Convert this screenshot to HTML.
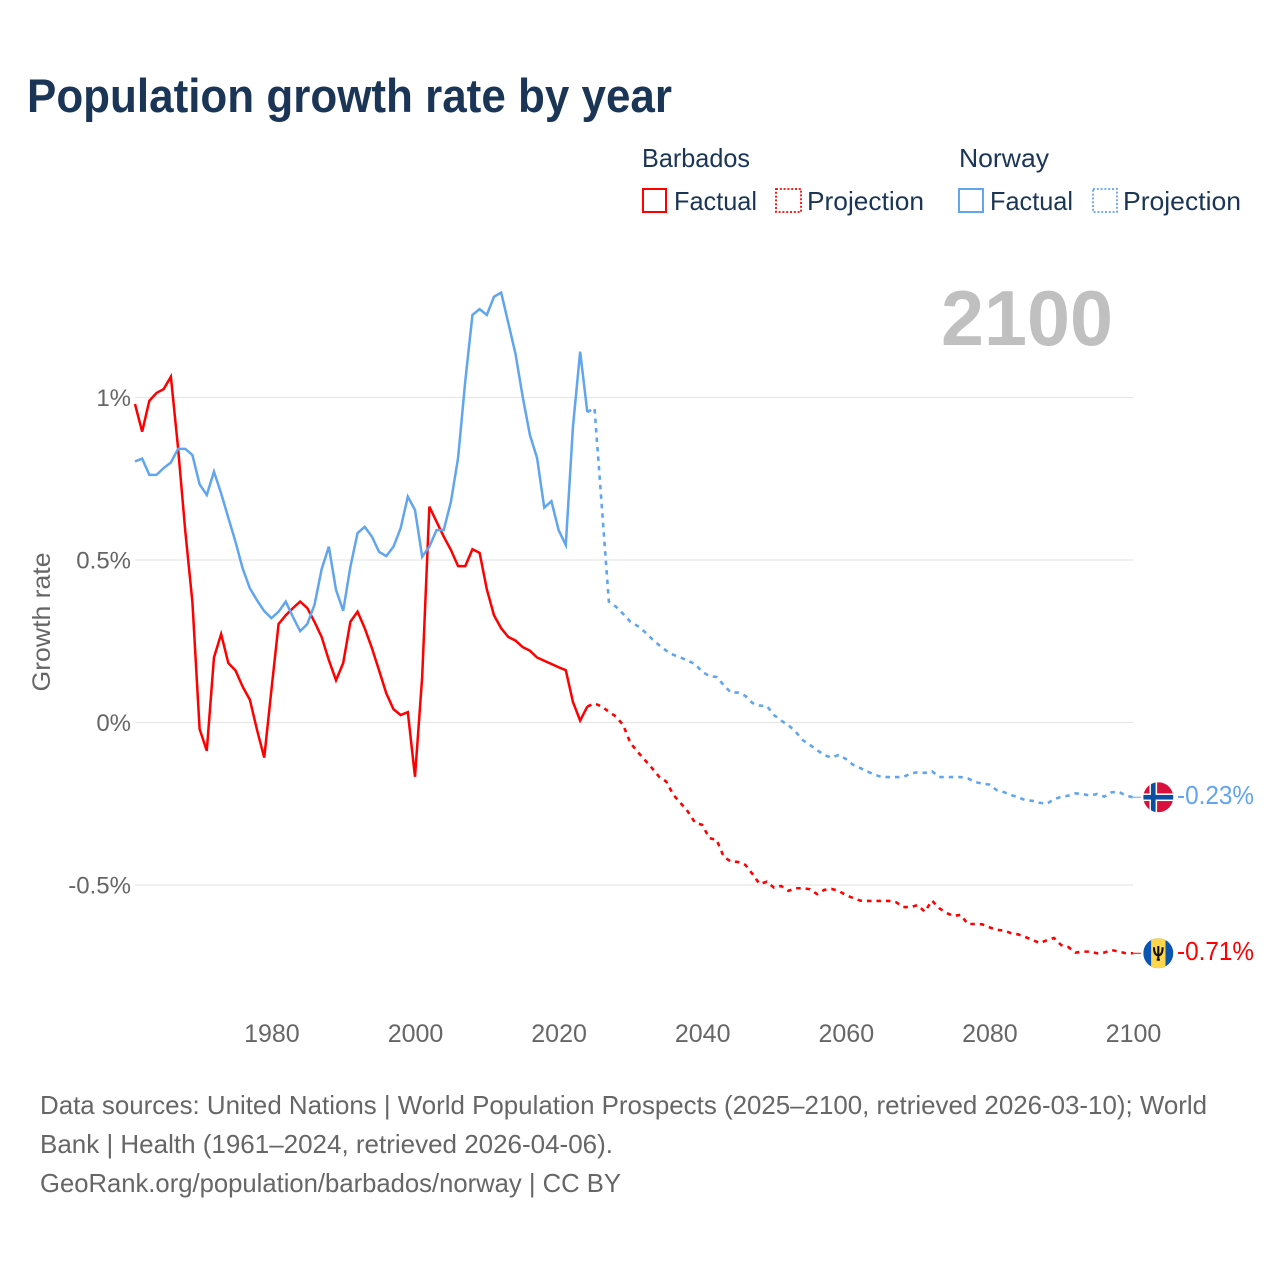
<!DOCTYPE html>
<html lang="en">
<head>
<meta charset="utf-8">
<title>Population growth rate by year</title>
<style>
html,body{margin:0;padding:0;background:#fff;}
svg{display:block;font-family:"Liberation Sans",sans-serif;}
</style>
</head>
<body>
<svg id="chart" xmlns="http://www.w3.org/2000/svg" width="1280" height="1280" viewBox="0 0 1280 1280">
  <rect x="0" y="0" width="1280" height="1280" fill="#fff"/>
  <text x="27" y="112" font-size="47" font-weight="700" fill="#1a3556" textLength="645" lengthAdjust="spacingAndGlyphs">Population growth rate by year</text>

  <g font-size="26" fill="#1a3556">
    <text x="642" y="167" textLength="108" lengthAdjust="spacingAndGlyphs">Barbados</text>
    <text x="959" y="167" textLength="90" lengthAdjust="spacingAndGlyphs">Norway</text>
    <g>
      <rect x="643" y="189" width="23" height="23" fill="none" stroke="#ff0000" stroke-width="2"/>
      <text x="674" y="210" textLength="83" lengthAdjust="spacingAndGlyphs">Factual</text>
    </g>
    <g>
      <rect x="776" y="189" width="25" height="23" fill="none" stroke="#ff0000" stroke-width="1.8" stroke-dasharray="2 1.8"/>
      <text x="807" y="210" textLength="117" lengthAdjust="spacingAndGlyphs">Projection</text>
    </g>
    <g>
      <rect x="959" y="189" width="24" height="23" fill="none" stroke="#60a5ee" stroke-width="2"/>
      <text x="990" y="210" textLength="83" lengthAdjust="spacingAndGlyphs">Factual</text>
    </g>
    <g>
      <rect x="1093" y="189" width="24" height="23" fill="none" stroke="#60a5ee" stroke-width="1.8" stroke-dasharray="2 1.8"/>
      <text x="1123" y="210" textLength="118" lengthAdjust="spacingAndGlyphs">Projection</text>
    </g>
  </g>

  <text x="941" y="345" font-size="78" font-weight="700" fill="#c0c0c0" textLength="172" lengthAdjust="spacingAndGlyphs">2100</text>

  <g id="grid"></g>
  <g id="yticks" font-size="24" fill="#666" text-anchor="end"></g>
  <g id="xticks" font-size="25" fill="#666" text-anchor="middle"></g>
  <text transform="translate(50,622) rotate(-90)" font-size="25" fill="#666" text-anchor="middle" textLength="139" lengthAdjust="spacingAndGlyphs">Growth rate</text>

  <g id="series"></g>

  <defs>
    <clipPath id="flag-clip"><circle cx="0" cy="0" r="15"/></clipPath>
  </defs>
  <g id="flag-norway">
    <g clip-path="url(#flag-clip)">
      <rect x="-15" y="-15" width="30" height="30" fill="#d8103c"/>
      <rect x="-8.8" y="-15" width="7.6" height="30" fill="#fff"/>
      <rect x="-15" y="-3.8" width="30" height="7.6" fill="#fff"/>
      <rect x="-7.3" y="-15" width="4.6" height="30" fill="#0b4ea2"/>
      <rect x="-15" y="-2.3" width="30" height="4.6" fill="#0b4ea2"/>
    </g>
  </g>
  <g id="flag-barbados">
    <g clip-path="url(#flag-clip)">
      <rect x="-15" y="-15" width="30" height="30" fill="#0a55b0"/>
      <rect x="-7.2" y="-15" width="14.4" height="30" fill="#fdd64b"/>
      <path d="M0 -7.3V7.3M-4.3 -6C-4.3 -1 -3 2 0 2C3 2 4.3 -1 4.3 -6M-1.6 6.5H1.6" fill="none" stroke="#111" stroke-width="2.1"/>
    </g>
  </g>
  <text id="label-norway" x="1177" y="803" font-size="26" fill="#60a5ee" textLength="77" lengthAdjust="spacingAndGlyphs">-0.23%</text>
  <text id="label-barbados" x="1177" y="959" font-size="26" fill="#ff0000" textLength="77" lengthAdjust="spacingAndGlyphs">-0.71%</text>

  <g font-size="26" fill="#666">
    <text x="40" y="1114" textLength="1167" lengthAdjust="spacingAndGlyphs">Data sources: United Nations | World Population Prospects (2025–2100, retrieved 2026-03-10); World</text>
    <text x="40" y="1153" textLength="573" lengthAdjust="spacingAndGlyphs">Bank | Health (1961–2024, retrieved 2026-04-06).</text>
    <text x="40" y="1192" textLength="581" lengthAdjust="spacingAndGlyphs">GeoRank.org/population/barbados/norway | CC BY</text>
  </g>
</svg>

<script>
var factualYears = [1961,1962,1963,1964,1965,1966,1967,1968,1969,1970,1971,1972,1973,1974,1975,1976,1977,1978,1979,1980,1981,1982,1983,1984,1985,1986,1987,1988,1989,1990,1991,1992,1993,1994,1995,1996,1997,1998,1999,2000,2001,2002,2003,2004,2005,2006,2007,2008,2009,2010,2011,2012,2013,2014,2015,2016,2017,2018,2019,2020,2021,2022,2023,2024];
var projectionYears = [2024,2025,2026,2027,2028,2029,2030,2031,2032,2033,2034,2035,2036,2037,2038,2039,2040,2041,2042,2043,2044,2045,2046,2047,2048,2049,2050,2051,2052,2053,2054,2055,2056,2057,2058,2059,2060,2061,2062,2063,2064,2065,2066,2067,2068,2069,2070,2071,2072,2073,2074,2075,2076,2077,2078,2079,2080,2081,2082,2083,2084,2085,2086,2087,2088,2089,2090,2091,2092,2093,2094,2095,2096,2097,2098,2099,2100];
var barbadosFactual = [0.98,0.895,0.99,1.014,1.026,1.064,0.845,0.59,0.37,-0.02,-0.087,0.2,0.272,0.183,0.16,0.11,0.07,-0.023,-0.108,0.1,0.303,0.33,0.352,0.372,0.352,0.31,0.263,0.192,0.13,0.183,0.31,0.341,0.29,0.229,0.16,0.09,0.041,0.023,0.032,-0.167,0.141,0.664,0.618,0.572,0.531,0.481,0.481,0.533,0.522,0.41,0.33,0.29,0.263,0.252,0.232,0.221,0.2,0.19,0.18,0.17,0.161,0.063,0.006,0.049];
var norwayFactual = [0.803,0.812,0.762,0.762,0.783,0.8,0.842,0.842,0.823,0.733,0.7,0.772,0.705,0.63,0.556,0.474,0.413,0.376,0.343,0.321,0.341,0.372,0.325,0.281,0.303,0.362,0.472,0.541,0.408,0.344,0.479,0.583,0.602,0.572,0.525,0.512,0.541,0.598,0.695,0.654,0.51,0.541,0.592,0.592,0.679,0.814,1.05,1.254,1.272,1.254,1.31,1.323,1.229,1.134,1.002,0.885,0.814,0.661,0.681,0.592,0.546,0.91,1.141,0.955];
var barbadosProjection = [0.049,0.059,0.049,0.033,0.018,-0.008,-0.063,-0.09,-0.115,-0.14,-0.167,-0.182,-0.223,-0.248,-0.274,-0.308,-0.315,-0.356,-0.361,-0.413,-0.428,-0.429,-0.438,-0.466,-0.497,-0.49,-0.508,-0.503,-0.518,-0.51,-0.51,-0.513,-0.528,-0.515,-0.512,-0.518,-0.531,-0.54,-0.548,-0.549,-0.549,-0.549,-0.549,-0.553,-0.568,-0.568,-0.562,-0.582,-0.548,-0.571,-0.586,-0.595,-0.592,-0.62,-0.62,-0.621,-0.63,-0.638,-0.64,-0.648,-0.652,-0.66,-0.669,-0.679,-0.67,-0.663,-0.685,-0.691,-0.708,-0.705,-0.705,-0.71,-0.708,-0.7,-0.705,-0.71,-0.71];
var norwayProjection = [0.955,0.968,0.67,0.372,0.356,0.334,0.31,0.297,0.279,0.257,0.238,0.221,0.208,0.2,0.19,0.18,0.156,0.143,0.14,0.115,0.092,0.092,0.082,0.06,0.052,0.051,0.023,0.006,-0.008,-0.028,-0.054,-0.069,-0.085,-0.1,-0.108,-0.1,-0.112,-0.13,-0.14,-0.151,-0.16,-0.168,-0.168,-0.168,-0.168,-0.157,-0.153,-0.155,-0.15,-0.168,-0.168,-0.168,-0.168,-0.172,-0.183,-0.188,-0.191,-0.208,-0.214,-0.223,-0.23,-0.239,-0.241,-0.247,-0.25,-0.236,-0.229,-0.225,-0.218,-0.22,-0.225,-0.22,-0.228,-0.215,-0.213,-0.225,-0.23];
var yTickValues = [1,0.5,0,-0.5];
var yTickLabels = ["1%","0.5%","0%","-0.5%"];
var xTickValues = [1980,2000,2020,2040,2060,2080,2100];
var xTickLabels = ["1980","2000","2020","2040","2060","2080","2100"];

var SVG_NS = "http://www.w3.org/2000/svg";
function xScale(year) { return 271.4 + (year - 1980) * 7.18; }
function yScale(value) { return 722.5 - value * 325; }

var gridGroup = document.getElementById("grid");
var yTickGroup = document.getElementById("yticks");
var xTickGroup = document.getElementById("xticks");
var seriesGroup = document.getElementById("series");

yTickValues.forEach(function (value, i) {
  var line = document.createElementNS(SVG_NS, "line");
  
  
  line.setAttribute("x1", 135);
  line.setAttribute("x2", 1133);
  line.setAttribute("y1", yScale(value));
  line.setAttribute("y2", yScale(value));
  line.setAttribute("stroke", "#e8e8e8");
  line.setAttribute("stroke-width", 1.2);
  gridGroup.appendChild(line);

  var label = document.createElementNS(SVG_NS, "text");
  
  
  label.setAttribute("x", 131);
  label.setAttribute("y", yScale(value) + 8.5);
  label.textContent = yTickLabels[i];
  yTickGroup.appendChild(label);
});

xTickValues.forEach(function (year, i) {
  var label = document.createElementNS(SVG_NS, "text");
  
  
  label.setAttribute("x", xScale(year) + 0.5);
  label.setAttribute("y", 1042);
  label.textContent = xTickLabels[i];
  xTickGroup.appendChild(label);
});

function buildPath(years, values) {
  var d = "";
  for (var i = 0; i < years.length; i++) {
    d += (i ? "L" : "M") + xScale(years[i]).toFixed(2) + " " + yScale(values[i]).toFixed(2);
  }
  return d;
}

function addConnector(name, years, values, color) {
  var last = values[values.length - 1];
  var connector = document.createElementNS(SVG_NS, "line");
  
  
  connector.setAttribute("x1", xScale(years[years.length - 1]));
  connector.setAttribute("x2", 1141);
  connector.setAttribute("y1", yScale(last));
  connector.setAttribute("y2", yScale(last));
  connector.setAttribute("stroke", color);
  connector.setAttribute("stroke-width", 1);
  seriesGroup.appendChild(connector);
}

var barbadosFactualLine = document.createElementNS(SVG_NS, "path");


barbadosFactualLine.setAttribute("d", buildPath(factualYears, barbadosFactual));
barbadosFactualLine.setAttribute("fill", "none");
barbadosFactualLine.setAttribute("stroke", "#ff0000");
barbadosFactualLine.setAttribute("stroke-width", 2.5);
seriesGroup.appendChild(barbadosFactualLine);

var barbadosProjectionLine = document.createElementNS(SVG_NS, "path");


barbadosProjectionLine.setAttribute("d", buildPath(projectionYears, barbadosProjection));
barbadosProjectionLine.setAttribute("fill", "none");
barbadosProjectionLine.setAttribute("stroke", "#ff0000");
barbadosProjectionLine.setAttribute("stroke-width", 2.6);
barbadosProjectionLine.setAttribute("stroke-dasharray", "4.5 5");
seriesGroup.appendChild(barbadosProjectionLine);

var norwayFactualLine = document.createElementNS(SVG_NS, "path");


norwayFactualLine.setAttribute("d", buildPath(factualYears, norwayFactual));
norwayFactualLine.setAttribute("fill", "none");
norwayFactualLine.setAttribute("stroke", "#60a5ee");
norwayFactualLine.setAttribute("stroke-width", 2.5);
seriesGroup.appendChild(norwayFactualLine);

var norwayProjectionLine = document.createElementNS(SVG_NS, "path");


norwayProjectionLine.setAttribute("d", buildPath(projectionYears, norwayProjection));
norwayProjectionLine.setAttribute("fill", "none");
norwayProjectionLine.setAttribute("stroke", "#60a5ee");
norwayProjectionLine.setAttribute("stroke-width", 2.6);
norwayProjectionLine.setAttribute("stroke-dasharray", "4.5 5");
seriesGroup.appendChild(norwayProjectionLine);

addConnector('barbados-end-connector', projectionYears, barbadosProjection, "#ff0000");
addConnector('norway-end-connector', projectionYears, norwayProjection, "#60a5ee");

var norwayEnd = norwayProjection[norwayProjection.length - 1];
var barbadosEnd = barbadosProjection[barbadosProjection.length - 1];
document.getElementById("flag-norway").setAttribute("transform", "translate(1158.3," + yScale(norwayEnd) + ")");
document.getElementById("flag-barbados").setAttribute("transform", "translate(1158.3," + yScale(barbadosEnd) + ")");
document.getElementById("label-norway").setAttribute("y", yScale(norwayEnd) + 6.5);
document.getElementById("label-barbados").setAttribute("y", yScale(barbadosEnd) + 6.5);
</script>
</body>
</html>
